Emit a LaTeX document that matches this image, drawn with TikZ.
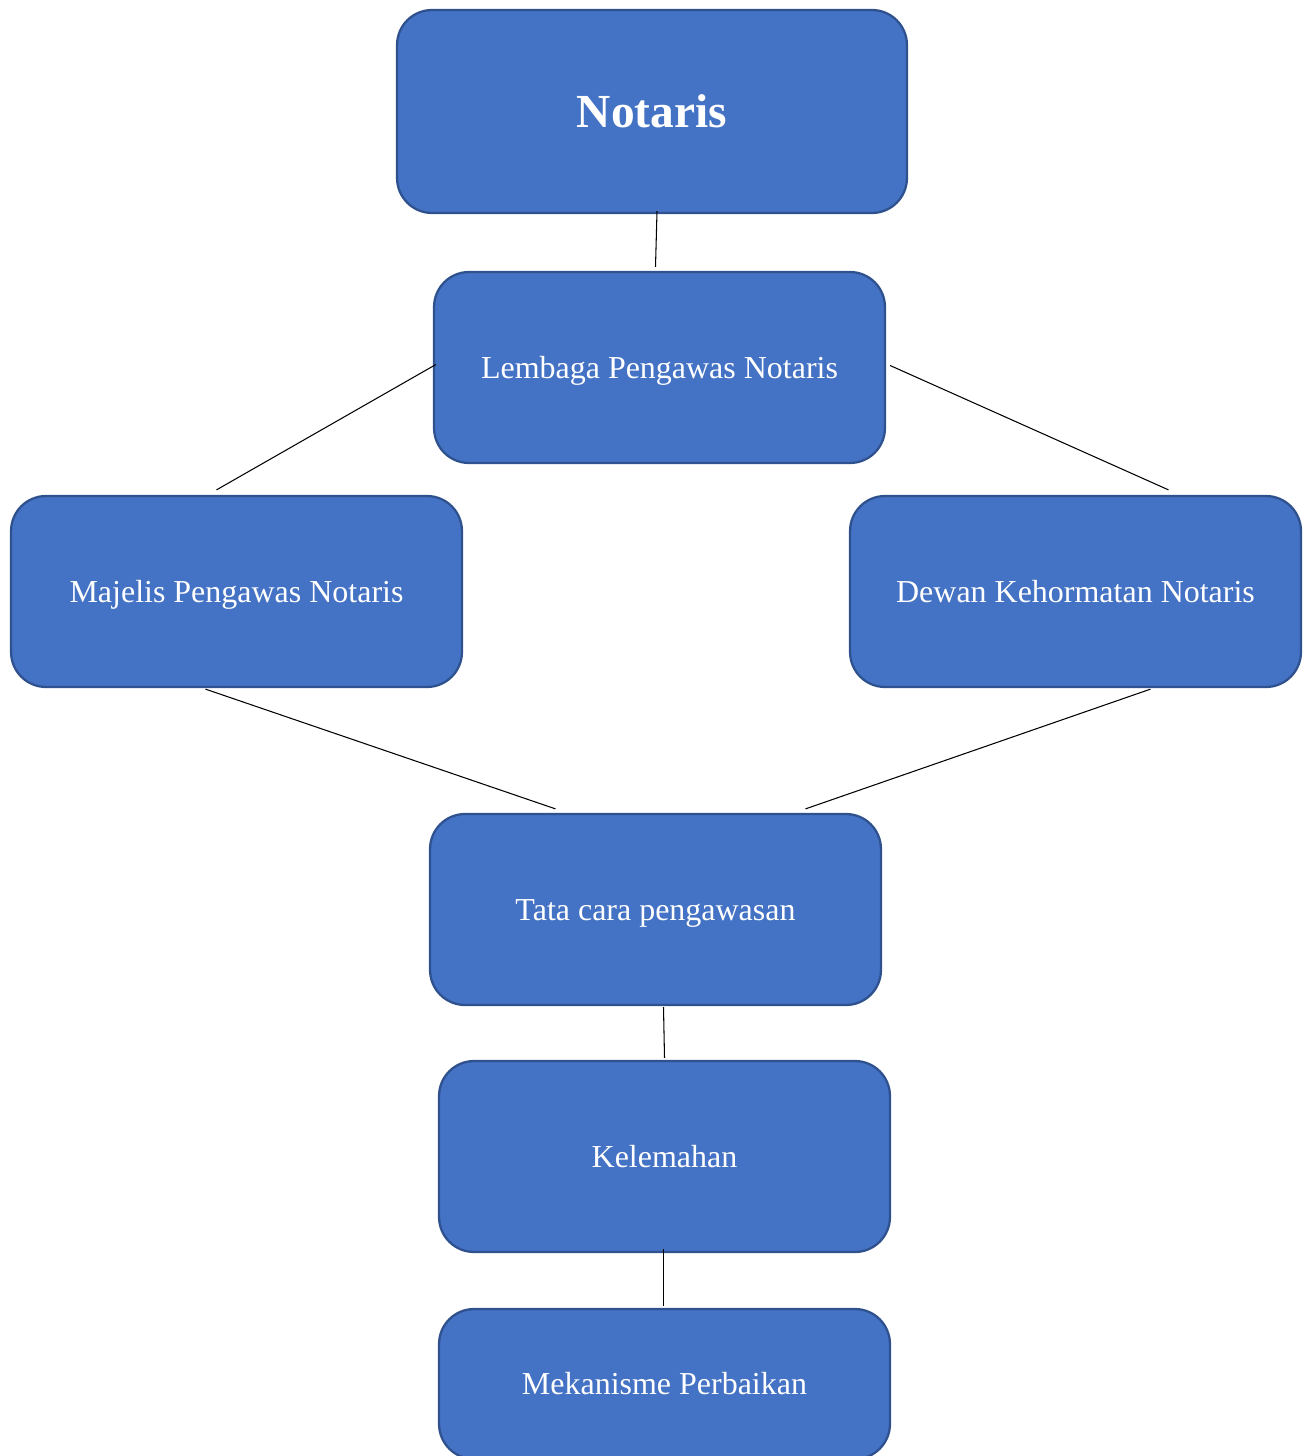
\documentclass[tikz,border=0pt]{standalone}
\usepackage{fontspec}
\setmainfont{Liberation Serif}
\usetikzlibrary{positioning, calc}

\definecolor{boxblue}{HTML}{4472C4}
\definecolor{boxedge}{HTML}{2F528F}

\tikzset{
    unitbox/.style={rectangle, rounded corners=0.7cm, fill=boxblue, draw=boxedge,
        line width=1.3pt, text=white, font=\fontsize{18.2}{22}\selectfont,
        text height=16.2pt, text depth=3.9pt,
        minimum width=9.02cm, minimum height=3.82cm, inner sep=0pt},
    link/.style={draw=black, line width=0.6pt}
}

\begin{document}
\begin{tikzpicture}[x=0.02cm, y=-0.02cm]
    \useasboundingbox (0,0) rectangle (1311,1456); % Page

    \node[unitbox, minimum width=10.2cm, minimum height=4.06cm, text height=24.1pt, text depth=5.8pt,
        font=\fontsize{27}{32}\selectfont\bfseries] (notaris) at (652,111.5) {Notaris}; % Top box
    \node[unitbox] (lembaga) at (659.5,367.5) {Lembaga Pengawas Notaris};
    \node[unitbox] (majelis) at (236.5,591.5) {Majelis Pengawas Notaris};
    \node[unitbox] (dewan) at (1075.5,591.5) {Dewan Kehormatan Notaris};
    \node[unitbox] (tatacara) at (655.5,909.5) {Tata cara pengawasan};
    \node[unitbox] (kelemahan) at (664.5,1156.5) {Kelemahan};
    \node[unitbox, minimum height=3.0cm] (mekanisme) at (664.5,1384) {Mekanisme Perbaikan}; % Cut off at bottom

    \draw[link] ($(notaris.south)+(5,-3)$) -- ($(lembaga.north)+(-4,-4)$);
    \draw[link] ($(lembaga.west)+(3,-3)$) -- ($(majelis.north)+(-20,-5)$);
    \draw[link] ($(lembaga.east)+(4,-2)$) -- ($(dewan.north)+(93,-5)$);
    \draw[link] ($(majelis.south)+(-31,1)$) -- ($(tatacara.north)+(-100,-4)$);
    \draw[link] ($(dewan.south)+(75,1)$) -- ($(tatacara.north)+(150,-4)$);
    \draw[link] ($(tatacara.south)+(8,1)$) -- ($(kelemahan.north)+(0,-2)$);
    \draw[link] ($(kelemahan.south)+(-1,-4)$) -- ($(mekanisme.north)+(-1,-2)$);
\end{tikzpicture}
\end{document}
